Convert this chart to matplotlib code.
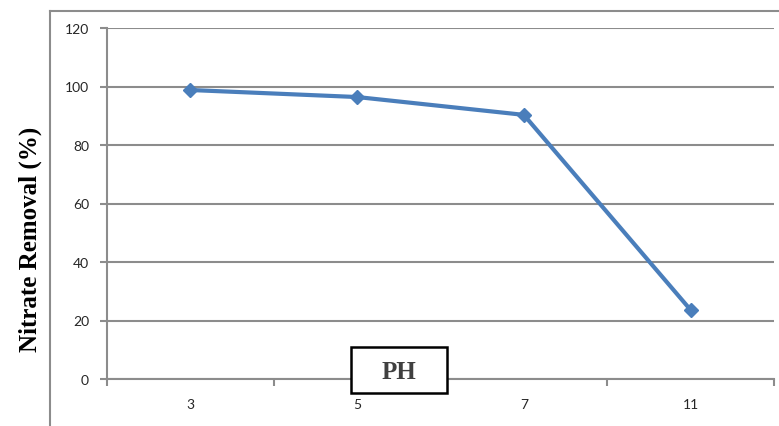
import matplotlib
matplotlib.use('Agg')
import matplotlib.pyplot as plt
from matplotlib.lines import Line2D
from matplotlib.patches import Rectangle
import numpy as np

ph_labels = ['3', '5', '7', '11']
removal = [98.8, 96.4, 90.3, 23.6]
y_ticks = [0, 20, 40, 60, 80, 100, 120]

grey = '#8c8c8c'
blue = '#4a7ebb'
W, H = 779, 427

fig = plt.figure(figsize=(W / 100, H / 100), dpi=100)
ax = fig.add_axes([107 / W, 1 - 380 / H, (774 - 107) / W, (380 - 29) / H])

x = np.arange(len(ph_labels))
ax.plot(x, removal, color=blue, lw=3, marker='D', ms=7, mec=blue, mfc=blue, zorder=3)

ax.set_xlim(-0.5, len(ph_labels) - 0.5)
ax.set_ylim(0, 120)
ax.set_yticks(y_ticks)
ax.set_yticklabels([str(v) for v in y_ticks], fontsize=10, family='Lato', color='#262626')
ax.yaxis.grid(True, color=grey, lw=1.5)
ax.set_axisbelow(True)

# category labels at centres, tick marks at boundaries
ax.set_xticks(np.arange(-0.5, len(ph_labels)), minor=False)
ax.set_xticklabels([''] * (len(ph_labels) + 1))
ax.set_xticks(x, minor=True)
ax.set_xticklabels(ph_labels, minor=True, fontsize=10, family='Lato', color='#262626')
ax.tick_params(axis='x', which='major', length=5, width=1.5, color=grey, direction='out')
ax.tick_params(axis='x', which='minor', length=0, pad=14)
ax.tick_params(axis='y', length=5, width=1.5, color=grey, pad=8)

for side in ['top', 'right']:
    ax.spines[side].set_visible(False)
for side in ['left', 'bottom']:
    ax.spines[side].set_color(grey)
    ax.spines[side].set_linewidth(1.5)

ax.set_ylabel('Nitrate Removal (%)', fontsize=18, fontweight='bold',
              family='Liberation Serif')
ax.yaxis.set_label_coords(-0.098, 0.40)

# x axis title in a box
fig.add_artist(Rectangle((351 / W, 1 - 394 / H), 96 / W, 46 / H, transform=fig.transFigure,
                         fc='white', ec='black', lw=1.8, zorder=5))
fig.text(399 / W, 1 - 373 / H, 'PH', ha='center', va='center', fontsize=18,
         fontweight='bold', family='Liberation Serif', color='#404040', zorder=6)

# outer chart frame (cropped)
fig.add_artist(Line2D([50 / W, 1], [1 - 12 / H] * 2, color=grey, lw=1.5,
                      transform=fig.transFigure))
fig.add_artist(Line2D([50 / W] * 2, [0, 1 - 12 / H], color=grey, lw=1.5,
                      transform=fig.transFigure))

fig.savefig('out.png', dpi=100)
